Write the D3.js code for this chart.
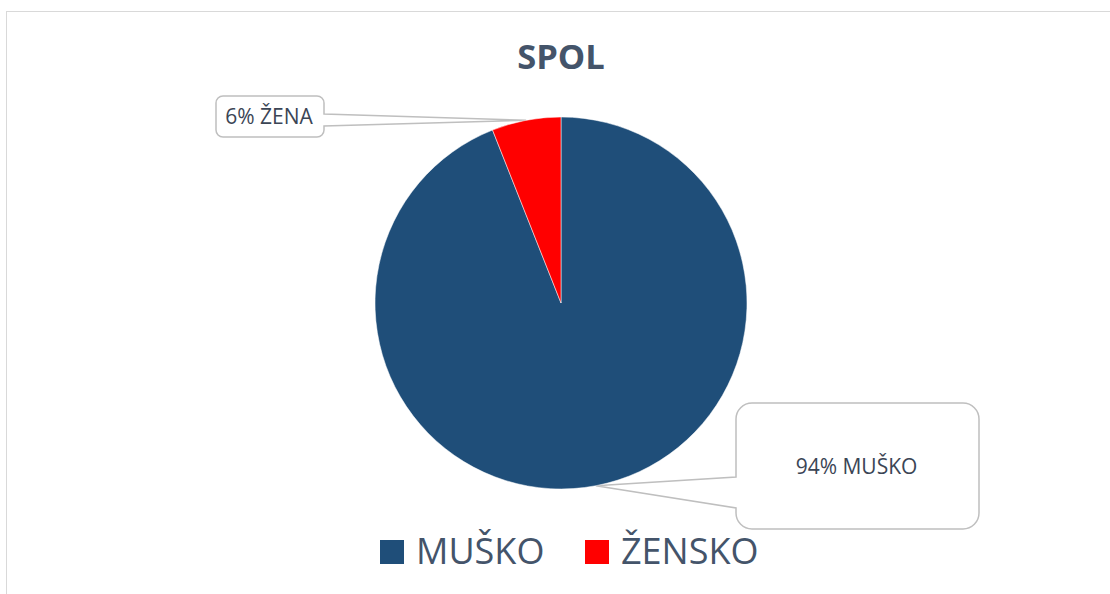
<!DOCTYPE html>
<html>
<head>
<meta charset="utf-8">
<script src="https://cdn.jsdelivr.net/npm/d3@7"></script>
<style>
  body { margin: 0; background: #fff; }
  svg { display: block; font-family: "Open Sans", sans-serif; }
</style>
</head>
<body>
<div id="chart"></div>
<script>
// data
var categories = ["MUŠKO", "ŽENSKO"];
var values = [94, 6];
var labelNames = ["MUŠKO", "ŽENA"];
var colors = ["#1F4E79", "#FF0000"];

var W = 1110, H = 594;
var cx = 561, cy = 303, r = 186;

// callout boxes (layout only)
var boxes = [
    { x: 736, y: 403, w: 243, h: 126, rx: 16, side: "left", b1: 477, b2: 508 },
    { x: 216, y: 96, w: 108, h: 41, rx: 7, side: "right", b1: 114, b2: 126 }
];

var svg = d3.select("#chart").append("svg")
    .attr("width", W)
    .attr("height", H);

// chart area frame
svg.append("rect")
    .attr("x", 6.5).attr("y", 11.5)
    .attr("width", W + 10).attr("height", H + 10)
    .attr("fill", "none")
    .attr("stroke", "#D9D9D9")
    .attr("stroke-width", 1);

svg.append("text")
    .attr("x", cx).attr("y", 69)
    .attr("text-anchor", "middle")
    .attr("font-size", 34.5)
    .attr("font-weight", "bold")
    .attr("fill", "#44546A")
    .text("SPOL");

var pie = d3.pie().sort(null).value(function(d) { return d; });
var arcs = pie(values);
var arc = d3.arc().innerRadius(0).outerRadius(r);

function callout(b, tx, ty) {
    var x = b.x, y = b.y, w = b.w, h = b.h, k = b.rx;
    var p = "M" + (x + k) + "," + y + "H" + (x + w - k) +
        "A" + k + "," + k + " 0 0 1 " + (x + w) + "," + (y + k);
    if (b.side == "right") {
        p += "V" + b.b1 + "L" + tx + "," + ty + "L" + (x + w) + "," + b.b2;
    }
    p += "V" + (y + h - k) + "A" + k + "," + k + " 0 0 1 " + (x + w - k) + "," + (y + h) +
        "H" + (x + k) + "A" + k + "," + k + " 0 0 1 " + x + "," + (y + h - k);
    if (b.side == "left") {
        p += "V" + b.b2 + "L" + tx + "," + ty + "L" + x + "," + b.b1;
    }
    p += "V" + (y + k) + "A" + k + "," + k + " 0 0 1 " + (x + k) + "," + y + "Z";
    return p;
}

// callouts under the pie
arcs.forEach(function(a, i) {
    var mid = (a.startAngle + a.endAngle) / 2;
    var tx = cx + r * Math.sin(mid), ty = cy - r * Math.cos(mid);
    var b = boxes[i];
    svg.append("path")
        .attr("d", callout(b, tx, ty))
        .attr("fill", "#fff")
        .attr("stroke", "#BFBFBF")
        .attr("stroke-width", 1.5);
    svg.append("text")
        .attr("x", b.x + b.w / 2 - 1)
        .attr("y", b.y + b.h / 2 + 7.5)
        .attr("text-anchor", "middle")
        .attr("font-size", 21)
        .attr("fill", "#3B4555")
        .text(Math.round(a.data / d3.sum(values) * 100) + "% " + labelNames[i]);
});

var g = svg.append("g").attr("transform", "translate(" + cx + "," + cy + ")");
g.selectAll("path.slice")
    .data(arcs)
    .enter()
    .append("path")
    .attr("class", "slice")
    .attr("d", arc)
    .attr("fill", function(d, i) { return colors[i]; })
    .attr("stroke", "#fff")
    .attr("stroke-width", 0.5);

// legend
var legendX = [380, 585];
var leg = svg.selectAll("g.leg")
    .data(categories)
    .enter()
    .append("g")
    .attr("class", "leg")
    .attr("transform", function(d, i) { return "translate(" + legendX[i] + ",540)"; });
leg.append("rect")
    .attr("width", 24).attr("height", 24)
    .attr("fill", function(d, i) { return colors[i]; });
leg.append("text")
    .attr("x", 36).attr("y", 23.5)
    .attr("font-size", 36)
    .attr("fill", "#44546A")
    .text(function(d) { return d; });
</script>
</body>
</html>
